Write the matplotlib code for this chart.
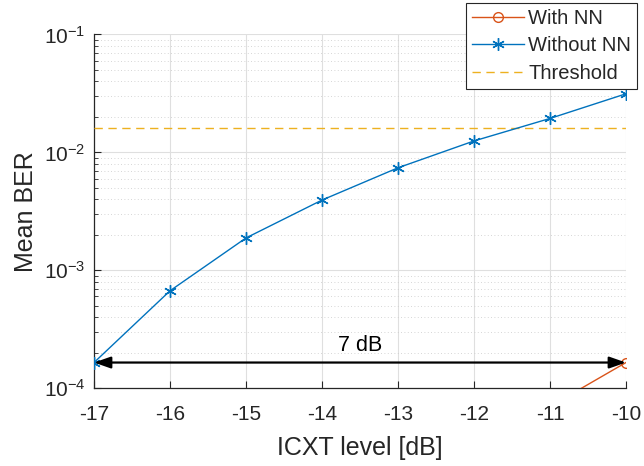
import matplotlib
matplotlib.use("Agg")
import matplotlib.pyplot as plt
from matplotlib.ticker import LogLocator, FixedLocator, NullFormatter

plt.rcParams['font.family'] = ['Liberation Sans', 'DejaVu Sans']
plt.rcParams['mathtext.fontset'] = 'custom'
plt.rcParams['mathtext.rm'] = 'Liberation Sans'
plt.rcParams['mathtext.it'] = 'Liberation Sans'
plt.rcParams['axes.unicode_minus'] = False

# Data
icxt = [-17, -16, -15, -14, -13, -12, -11, -10]
ber_without_nn = [1.65e-4, 6.7e-4, 1.88e-3, 3.94e-3, 7.4e-3, 1.25e-2, 1.94e-2, 3.14e-2]
icxt_nn = [-11, -10]
ber_with_nn = [7.0e-5, 1.65e-4]
threshold = 1.6e-2
xticks = [-17, -16, -15, -14, -13, -12, -11, -10]
gap_label = "7 dB"

fig = plt.figure(figsize=(6.44, 4.66), dpi=100)
ax = fig.add_axes([0.146, 0.167, 0.826, 0.759])

c_blue = '#0072BD'
c_orange = '#D95319'
c_yellow = '#EDB120'

ax.plot(icxt_nn, ber_with_nn, color=c_orange, marker='o', markersize=7,
        markerfacecolor='none', markeredgewidth=1.0, lw=1.0, label='With NN', zorder=4)
ax.plot(icxt, ber_without_nn, color=c_blue, marker=(6, 2, 0), markersize=9,
        markeredgewidth=1.0, lw=1.0, label='Without NN', zorder=4)
ax.axhline(threshold, color=c_yellow, ls=(0, (6, 4)), lw=1.0, label='Threshold', zorder=3)

ax.set_yscale('log')
ax.set_xlim(-17, -10)
ax.set_ylim(1e-4, 1e-1)
ax.xaxis.set_major_locator(FixedLocator(xticks))
ax.set_xticklabels([str(v) for v in xticks])
ax.yaxis.set_minor_locator(LogLocator(base=10, subs=range(2, 10), numticks=20))
ax.yaxis.set_minor_formatter(NullFormatter())
ax.set_yticks([1e-4, 1e-3, 1e-2, 1e-1])
ax.set_yticklabels([r'$\mathregular{10^{-4}}$', r'$\mathregular{10^{-3}}$',
                    r'$\mathregular{10^{-2}}$', r'$\mathregular{10^{-1}}$'])

ax.grid(True, which='major', color='#DFDFDF', lw=0.8, zorder=0)
ax.grid(True, which='minor', axis='y', color='#C8C8C8', lw=0.6, ls=(0, (1, 3)), zorder=0)
ax.set_axisbelow(True)

for s in ['top', 'right']:
    ax.spines[s].set_visible(False)
for s in ['left', 'bottom']:
    ax.spines[s].set_color('#262626')
    ax.spines[s].set_linewidth(0.9)

ax.tick_params(axis='both', which='both', direction='in', colors='#262626',
               labelsize=15)
ax.tick_params(axis='x', which='major', pad=12)
ax.tick_params(axis='y', which='major', pad=6)
ax.tick_params(axis='both', which='major', length=5)
ax.tick_params(axis='y', which='minor', length=3)

ax.set_xlabel('ICXT level [dB]', fontsize=18, color='#262626', labelpad=9)
ax.set_ylabel('Mean BER', fontsize=18, color='#262626', labelpad=4)

# Double arrow
ax.annotate('', xy=(-10, 1.65e-4), xytext=(-17, 1.65e-4),
            arrowprops=dict(arrowstyle='<|-|>,head_length=1.0,head_width=0.35',
                            color='black', lw=1.6, shrinkA=0, shrinkB=0), zorder=5)
ax.text(-13.5, 2.3e-4, gap_label, ha='center', va='center', fontsize=15.5, color='black')

leg = ax.legend(loc='upper right', bbox_to_anchor=(637 / 644, 1 - 3 / 466),
                bbox_transform=fig.transFigure, fontsize=14.5, frameon=True,
                fancybox=False, edgecolor='#262626', framealpha=1,
                handlelength=2.6, borderpad=0.3, labelspacing=0.42,
                handletextpad=0.2, borderaxespad=0)
leg.get_frame().set_linewidth(0.8)
for t in leg.get_texts():
    t.set_color('#262626')

fig.savefig('out.png', dpi=100)
